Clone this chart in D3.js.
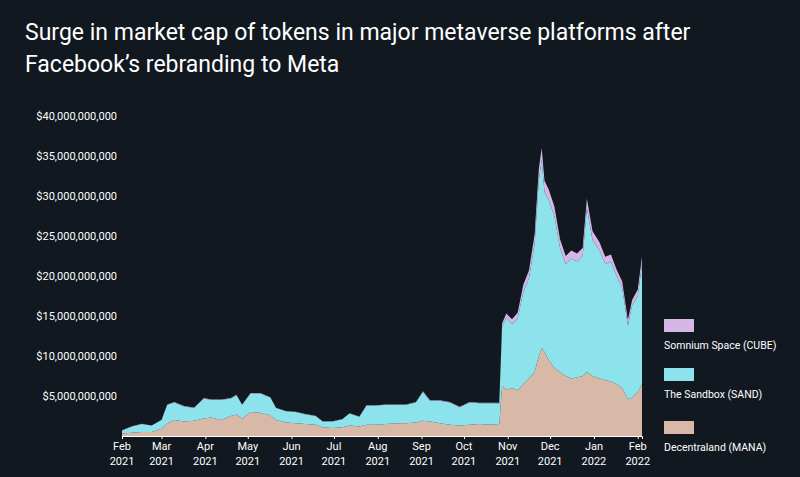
<!DOCTYPE html>
<html>
<head>
<meta charset="utf-8">
<script src="https://cdn.jsdelivr.net/npm/d3@7"></script>
<style>
  body { margin: 0; background: #111820; }
  svg { display: block; }
  text { font-family: "Liberation Sans Narrow", "Roboto", sans-serif; }
</style>
</head>
<body>
<svg id="chart" width="800" height="477"></svg>
<script>
// Market cap in billions USD
const dates = [
  "2021-02-01","2021-02-08","2021-02-15","2021-02-22","2021-03-01","2021-03-05","2021-03-10","2021-03-17",
  "2021-03-24","2021-03-31","2021-04-05","2021-04-12","2021-04-19","2021-04-23","2021-04-27","2021-05-03",
  "2021-05-10","2021-05-17","2021-05-21","2021-05-28","2021-06-04","2021-06-11","2021-06-18","2021-06-23",
  "2021-06-30","2021-07-07","2021-07-12","2021-07-19","2021-07-24","2021-07-31","2021-08-07","2021-08-14",
  "2021-08-21","2021-08-28","2021-09-02","2021-09-07","2021-09-14","2021-09-21","2021-09-28","2021-10-05",
  "2021-10-12","2021-10-19","2021-10-26","2021-10-28","2021-10-31","2021-11-04","2021-11-08","2021-11-12",
  "2021-11-16","2021-11-20","2021-11-23","2021-11-25","2021-11-27","2021-11-30","2021-12-04","2021-12-08",
  "2021-12-12","2021-12-16","2021-12-20","2021-12-24","2021-12-27","2021-12-31","2022-01-05","2022-01-09",
  "2022-01-13","2022-01-17","2022-01-21","2022-01-25","2022-01-28","2022-02-01","2022-02-04"
];
const mana = [
  0.3,0.4,0.5,0.5,0.9,1.6,2.0,1.8,1.9,2.2,2.3,2.0,2.5,2.7,2.2,3.0,
  2.9,2.6,2.0,1.7,1.6,1.5,1.4,1.1,1.0,1.1,1.3,1.2,1.4,1.4,1.5,1.6,
  1.6,1.7,1.9,1.8,1.6,1.4,1.3,1.4,1.5,1.4,1.5,6.2,5.8,6.0,5.7,6.5,
  7.2,8.0,10.0,11.0,10.5,9.5,8.5,8.0,7.5,7.2,7.3,7.5,8.0,7.5,7.2,7.0,
  6.8,6.5,6.0,4.6,4.8,5.5,6.5
];
const sand = [
  0.4,0.8,1.0,0.8,1.1,2.3,2.2,1.9,1.6,2.5,2.2,2.5,2.2,2.4,1.7,2.3,
  2.4,2.2,1.5,1.4,1.4,1.2,1.1,0.7,0.8,1.0,1.5,1.2,2.4,2.4,2.4,2.3,
  2.3,2.5,3.6,2.6,2.8,2.8,2.3,2.8,2.6,2.7,2.6,7.5,9.0,8.0,9.0,11.5,
  12.5,16.0,22.0,23.5,20.0,20.0,19.0,15.5,14.0,15.0,14.5,15.0,20.5,17.0,16.0,14.5,
  15.0,13.5,12.5,9.2,11.5,12.0,15.0
];
const cube = [
  0.02,0.02,0.02,0.02,0.03,0.05,0.05,0.05,0.05,0.06,0.06,0.06,0.06,0.06,0.05,0.06,
  0.06,0.05,0.04,0.04,0.04,0.04,0.04,0.03,0.03,0.03,0.04,0.04,0.05,0.05,0.05,0.05,
  0.05,0.06,0.08,0.06,0.06,0.05,0.05,0.06,0.06,0.06,0.06,0.4,0.5,0.6,0.7,0.9,
  1.0,1.2,1.4,1.5,1.4,1.3,1.2,1.1,1.0,1.0,1.0,1.0,1.2,1.1,1.0,0.9,
  0.9,0.8,0.8,0.7,0.7,0.8,0.9
];
const yTicks = [5, 10, 15, 20, 25, 30, 35, 40];
const monthTicks = ["2021-02-01","2021-03-01","2021-04-01","2021-05-01","2021-06-01","2021-07-01",
  "2021-08-01","2021-09-01","2021-10-01","2021-11-01","2021-12-01","2022-01-01","2022-02-01"];

const keys = ["mana", "sand", "cube"];
const colors = { mana: "#d8b9a8", sand: "#8de3eb", cube: "#d6b6e6" };
const labels = { cube: "Somnium Space (CUBE)", sand: "The Sandbox (SAND)", mana: "Decentraland (MANA)" };

const parse = d3.utcParse("%Y-%m-%d");
const rows = dates.map((d, i) => ({ date: parse(d), mana: mana[i], sand: sand[i], cube: cube[i] }));

const svg = d3.select("#chart");

// Title
const title = svg.append("text").attr("x", 25).attr("fill", "#ffffff").attr("font-size", 23);
title.append("tspan").attr("x", 25).attr("y", 40).text("Surge in market cap of tokens in major metaverse platforms after");
title.append("tspan").attr("x", 25).attr("y", 72).text("Facebook\u2019s rebranding to Meta");

const x = d3.scaleUtc().domain([parse("2021-02-01"), parse("2022-02-04")]).range([122, 642]);
const y = d3.scaleLinear().domain([0, 40]).range([436, 116]);

const stack = d3.stack().keys(keys);
const series = stack(rows);

const area = d3.area()
  .x(d => x(d.data.date))
  .y0(d => y(d[0]))
  .y1(d => y(d[1]));

svg.append("g").selectAll("path").data(series).join("path")
  .attr("fill", d => colors[d.key])
  .attr("d", area);

// Y axis labels
svg.append("g").selectAll("text").data(yTicks).join("text")
  .attr("x", 117)
  .attr("y", d => y(d) + 4)
  .attr("text-anchor", "end")
  .attr("fill", "#ffffff")
  .attr("font-size", 11)
  .text(d => "$" + d3.format(",")(d * 1e9));

// X axis
const xAxis = svg.append("g").attr("transform", "translate(0,436)")
  .call(d3.axisBottom(x).tickValues(monthTicks.map(parse)).tickSize(3).tickFormat(""));
xAxis.select(".domain").attr("stroke", "#ffffff");
xAxis.selectAll(".tick line").attr("stroke", "#ffffff");

const fmtM = d3.utcFormat("%b"), fmtY = d3.utcFormat("%Y");
const xl = svg.append("g").selectAll("text").data(monthTicks.map(parse)).join("text")
  .attr("x", d => x(d))
  .attr("text-anchor", "middle")
  .attr("fill", "#ffffff")
  .attr("font-size", 11);
xl.append("tspan").attr("x", d => x(d)).attr("y", 450).text(d => fmtM(d));
xl.append("tspan").attr("x", d => x(d)).attr("y", 465).text(d => fmtY(d));

// Legend
const legendTop = { cube: 319, sand: 368, mana: 421 };
const lg = svg.append("g").selectAll("g").data(["cube", "sand", "mana"]).join("g");
lg.append("rect").attr("x", 664).attr("y", k => legendTop[k]).attr("width", 30).attr("height", 13)
  .attr("fill", k => colors[k]);
lg.append("text").attr("x", 664).attr("y", k => legendTop[k] + 30)
  .attr("fill", "#ffffff").attr("font-size", 10.5).text(k => labels[k]);
</script>
</body>
</html>
